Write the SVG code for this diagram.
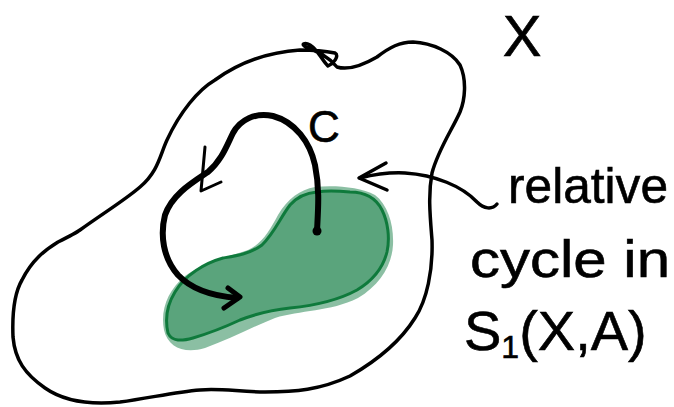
<svg xmlns="http://www.w3.org/2000/svg" width="674" height="407" viewBox="0 0 674 407">
<style>
.ink{fill:none;stroke:#000;stroke-linecap:round;stroke-linejoin:round}
.hand{font-family:"Liberation Sans","DejaVu Sans",sans-serif;fill:#000;stroke:#000;stroke-width:0.6}
.fillA{fill:#5aa47c}
</style>
<rect width="674" height="407" fill="#fff"/>
<g id="space-X">
<path class="ink" stroke-width="3.5" d="M80,230 C105,212 125,200 140,187 C158,172 160,155 167,140 C180,112 198,90 215,80 C240,62 270,52 300,50 C315,50 325,51 335,53 C340,56 333,64 328,66 C322,60 318,50 310,45 C305,42 300,44 306,47 C318,52 328,56 337,67 C350,71 365,64 377,57 C390,47 400,42 413,42 C432,43 452,52 460,65 C467,80 465,100 460,112 C452,130 438,150 432,173 C428,195 430,215 432,240 C433,270 427,300 415,318 C400,342 378,360 350,376 C320,390 295,392 265,392 C240,392 220,388 200,390 C175,392 150,398 120,402 C90,405 65,402 45,388 C25,374 15,360 13,337 C12,312 15,292 22,280 C32,260 45,250 58,242 C70,236 76,233 80,230 Z"/>
<text class="hand" x="522" y="56" font-size="58" text-anchor="middle">X</text>
</g>
<g id="subspace-A">
<path class="fillA" opacity="0.7" d="M315,187 C300,190 288,198 278,215 C270,230 262,244 248,250 C230,256 205,262 185,276 C168,290 160,310 164,330 C168,348 185,354 205,348 C228,340 250,328 275,318 C300,310 330,312 358,298 C380,285 392,265 393,245 C394,225 388,205 375,195 C360,187 335,185 315,187 Z"/>
<path class="fillA" stroke="#0f7a3c" stroke-width="3" d="M317,192 C305,193 297,197 290,205 C280,218 275,232 262,245 C250,254 235,256 223,258 C205,263 185,275 175,292 C167,305 165,320 168,333 C172,342 182,341 193,338 C210,333 225,327 240,320 C258,313 270,310 290,308 C310,306 335,302 357,290 C372,281 383,268 387,252 C390,238 388,222 382,210 C376,198 365,192 350,192 C340,191 328,190 317,192 Z"/>
</g>
<g id="cycle-c">
<path class="ink" stroke-width="6" d="M317,231 C318,210 320,190 315,165 C310,142 295,122 273,116 C255,112 240,120 233,133 C227,145 222,160 208,172 C190,184 172,195 165,215 C160,235 163,258 178,275 C192,290 212,296 237,298"/>
<path class="ink" stroke-width="5" d="M228,288 L240,297 L224,308"/>
<circle cx="317" cy="231" r="4.5" fill="#000"/>
<path class="ink" stroke-width="3" d="M205,147 L201,191 L221,182"/>
<text class="hand" x="308" y="142" font-size="44">C</text>
</g>
<g id="connectors">
<path class="ink" stroke-width="3.5" d="M497,204 C492,210 484,209 477,202 C462,186 435,175 405,173 C385,172 372,175 360,178"/>
<path class="ink" stroke-width="3.5" d="M386,163 L359,178 L387,190"/>
</g>
<g id="label">
<text class="hand" x="508" y="203" font-size="50" textLength="160" lengthAdjust="spacingAndGlyphs">relative</text>
<text class="hand" x="470" y="277" font-size="52" textLength="200" lengthAdjust="spacingAndGlyphs">cycle in</text>
<text class="hand" x="464" y="350" font-size="56">S<tspan font-size="32" dy="8">1</tspan><tspan dy="-8">(X,A)</tspan></text>
</g>
</svg>
